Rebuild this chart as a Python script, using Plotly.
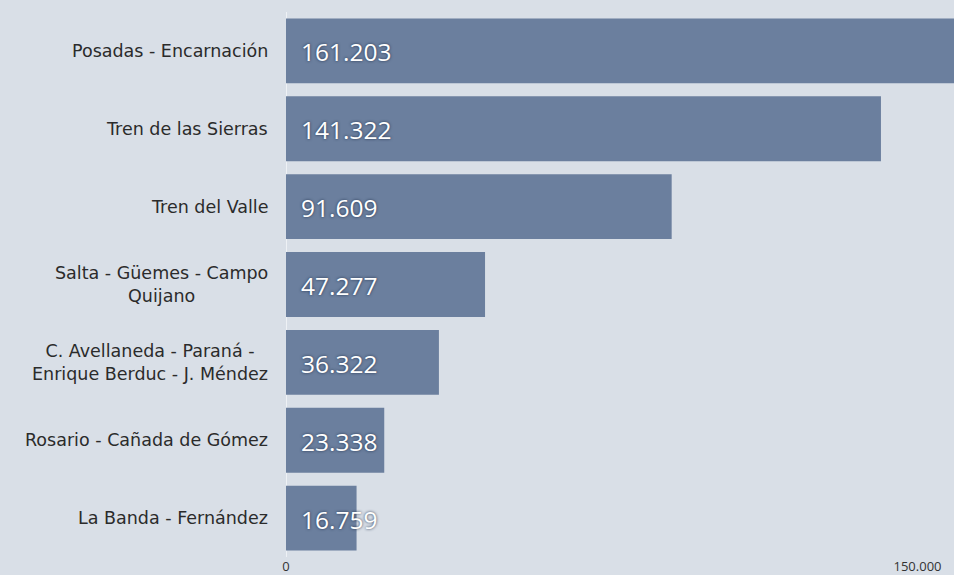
import plotly.graph_objects as go

categories = [
    "Posadas - Encarnación",
    "Tren de las Sierras",
    "Tren del Valle",
    "Salta - Güemes - Campo<br>Quijano",
    "C. Avellaneda - Paraná -<br>Enrique Berduc - J. Méndez",
    "Rosario - Cañada de Gómez",
    "La Banda - Fernández",
]
values = [161203, 141322, 91609, 47277, 36322, 23338, 16759]
tick_vals = [0, 150000]
tick_text = ["0", "150.000"]

BG = "#d9dfe7"
BAR = "#6b7f9e"
LABEL_FONT = "DejaVu Sans, sans-serif"
VALUE_FONT = "Open Sans, sans-serif"


def fmt(v):
    return f"{v:,}".replace(",", ".")


fig = go.Figure()
fig.add_trace(go.Bar(
    y=categories, x=values, orientation="h",
    marker=dict(color=BAR, line=dict(width=0)),
    hoverinfo="skip",
))

annotations = []
for c, v in zip(categories, values):
    annotations.append(dict(
        x=0, y=c, xref="x", yref="y", text=fmt(v), showarrow=False,
        xanchor="left", yanchor="middle", xshift=13, yshift=-1,
        font=dict(family=VALUE_FONT, size=24.5, color="white",
                  shadow="0px 0px 3px #22324d"),
    ))
    annotations.append(dict(
        x=0, y=c, xref="paper", yref="y", text=c, showarrow=False,
        xanchor="right", yanchor="middle", xshift=-16, align="center",
        font=dict(family=LABEL_FONT, size=17.5, color="#2b2b2b"),
    ))

fig.update_layout(
    width=954, height=575,
    paper_bgcolor=BG, plot_bgcolor=BG,
    margin=dict(l=286, r=0, t=12, b=18),
    bargap=0.167,
    showlegend=False,
    separators=",.",
    annotations=annotations,
    xaxis=dict(
        range=[0, 158670], tickvals=tick_vals, ticktext=tick_text,
        showgrid=False, zeroline=True, zerolinecolor="#eef1f5", zerolinewidth=1,
        tickfont=dict(family=VALUE_FONT, size=13, color="#333"),
        fixedrange=True,
    ),
    yaxis=dict(
        autorange="reversed", showticklabels=False, showgrid=False,
        zeroline=False, fixedrange=True,
    ),
)

fig.write_html(
    "out.html",
    config={"displayModeBar": False},
    post_script="document.body.style.margin='0px';document.body.style.overflow='hidden';",
)
